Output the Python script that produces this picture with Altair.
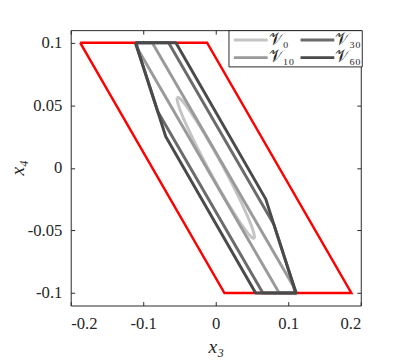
import altair as alt
import pandas as pd
import numpy as np

# ---- axis ticks ----
X_TICKS = [-0.2, -0.1, 0, 0.1, 0.2]
Y_TICKS = [-0.1, -0.05, 0, 0.05, 0.1]
X_DOMAIN = [-0.2, 0.2]
Y_DOMAIN = [-0.11, 0.11]

# ---- red constraint set (parallelogram) ----
RED_X = [-0.187, -0.012, 0.187, 0.012, -0.187]
RED_Y = [0.1, 0.1, -0.1, -0.1, 0.1]

# ---- V10 polygon ----
V10_X = [-0.110, -0.0875, 0.1075, 0.110, 0.0875, -0.1075, -0.110]
V10_Y = [0.1, 0.1, -0.095, -0.1, -0.1, 0.095, 0.1]

# ---- V30 polygon ----
V30_X = [-0.110, -0.065, 0.080, 0.104, 0.110, 0.065, -0.080, -0.104, -0.110]
V30_Y = [0.1, 0.1, -0.045, -0.088, -0.1, -0.1, 0.045, 0.088, 0.1]

# ---- V60 polygon ----
V60_X = [-0.111, -0.055, 0.069, 0.080, 0.104, 0.111, 0.055, -0.069, -0.080, -0.104, -0.111]
V60_Y = [0.1, 0.1, -0.025, -0.045, -0.088, -0.1, -0.1, 0.025, 0.045, 0.088, 0.1]

# ---- V0 ellipse (centre, tip of major axis, semi-minor axis) ----
ELL_CENTER = (0.0, 0.0)
ELL_TIP = (-0.053, 0.056)
ELL_MINOR = 0.008

SETS = ["𝒱₀", "𝒱₁₀", "𝒱₃₀", "𝒱₆₀"]
COLORS = ["#c4c4c4", "#9a9a9a", "#6b6b6b", "#4a4a4a"]

W, H = 296, 281


def poly(xs, ys, name):
    return pd.DataFrame({"x": xs, "y": ys, "i": list(range(len(xs))), "set": name})


ux, uy = ELL_TIP[0] - ELL_CENTER[0], ELL_TIP[1] - ELL_CENTER[1]
a = float(np.hypot(ux, uy))
ux, uy = ux / a, uy / a
vx, vy = -uy, ux
t = np.linspace(0, 2 * np.pi, 121)
ell_x = ELL_CENTER[0] + a * np.cos(t) * ux + ELL_MINOR * np.sin(t) * vx
ell_y = ELL_CENTER[1] + a * np.cos(t) * uy + ELL_MINOR * np.sin(t) * vy

df_red = poly(RED_X, RED_Y, "red")
df_v0 = poly(list(ell_x), list(ell_y), SETS[0])
df_v10 = poly(V10_X, V10_Y, SETS[1])
df_v30 = poly(V30_X, V30_Y, SETS[2])
df_v60 = poly(V60_X, V60_Y, SETS[3])

FONT = "Liberation Serif"
LABEL_EXPR = "replace(datum.label, '\u2212', '-')"

xscale = alt.Scale(domain=X_DOMAIN, nice=False, zero=False)
yscale = alt.Scale(domain=Y_DOMAIN, nice=False, zero=False)

main_x = alt.Axis(values=X_TICKS, format=".2~f", labelExpr=LABEL_EXPR, ticks=False, domain=False,
                  grid=False, labelFont=FONT, labelFontSize=17, labelColor="#262626",
                  labelPadding=10, title="x₃", titleFont=FONT, titleFontSize=20,
                  titleFontStyle="italic", titleFontWeight="normal", titleColor="#262626",
                  titleX=148, titleY=42, titleBaseline="middle")
main_y = alt.Axis(values=Y_TICKS, format=".2~f", labelExpr=LABEL_EXPR, ticks=False, domain=False,
                  grid=False, labelFont=FONT, labelFontSize=17, labelColor="#262626",
                  labelPadding=9, title="x₄", titleFont=FONT, titleFontSize=20,
                  titleFontStyle="italic", titleFontWeight="normal", titleColor="#262626",
                  titleX=-54, titleY=140, titleBaseline="middle", titleAngle=-90)


def tick_axis(orient, values, offset):
    return alt.Axis(orient=orient, values=values, offset=offset, labels=False, domain=False,
                    grid=False, ticks=True, tickSize=4, tickColor="#262626", tickWidth=1,
                    title=None)


color_scale = alt.Scale(domain=SETS, range=COLORS)
legend = alt.Legend(title=None, orient="none", legendX=161, legendY=0, columns=2,
                    symbolType="M-0.6,0H4", symbolSize=225, symbolStrokeWidth=3,
                    labelFont=FONT, labelFontSize=17, labelColor="#262626",
                    labelOffset=22, strokeColor="#262626", fillColor="white",
                    padding=1, columnPadding=0, rowPadding=1)

red = alt.Chart(df_red).mark_line(color="#ff0000", strokeWidth=2.5).encode(
    x=alt.X("x:Q", scale=xscale, axis=main_x),
    y=alt.Y("y:Q", scale=yscale, axis=main_y),
    order="i:Q",
)


def layer(df, xaxis, yaxis, show_legend):
    return alt.Chart(df).mark_line(strokeWidth=3, strokeJoin="round").encode(
        x=alt.X("x:Q", scale=xscale, axis=xaxis),
        y=alt.Y("y:Q", scale=yscale, axis=yaxis),
        color=alt.Color("set:N", scale=color_scale, legend=legend if show_legend else None),
        order="i:Q",
    )


l0 = layer(df_v0, tick_axis("top", X_TICKS, -H), tick_axis("right", Y_TICKS, -W), True)
l10 = layer(df_v10, tick_axis("bottom", X_TICKS, -H), tick_axis("left", Y_TICKS, -W), False)
l30 = layer(df_v30, None, None, False)
l60 = layer(df_v60, None, None, False)

chart = alt.layer(red, l0, l10, l30, l60).resolve_axis(
    x="independent", y="independent"
).properties(
    width=W, height=H,
    autosize=alt.AutoSizeParams(type="none"),
    padding={"left": 64, "top": 19, "right": 39, "bottom": 53},
).configure_view(stroke="#262626", strokeWidth=1)

chart.save("out.html", embed_options={"renderer": "svg", "actions": False})
